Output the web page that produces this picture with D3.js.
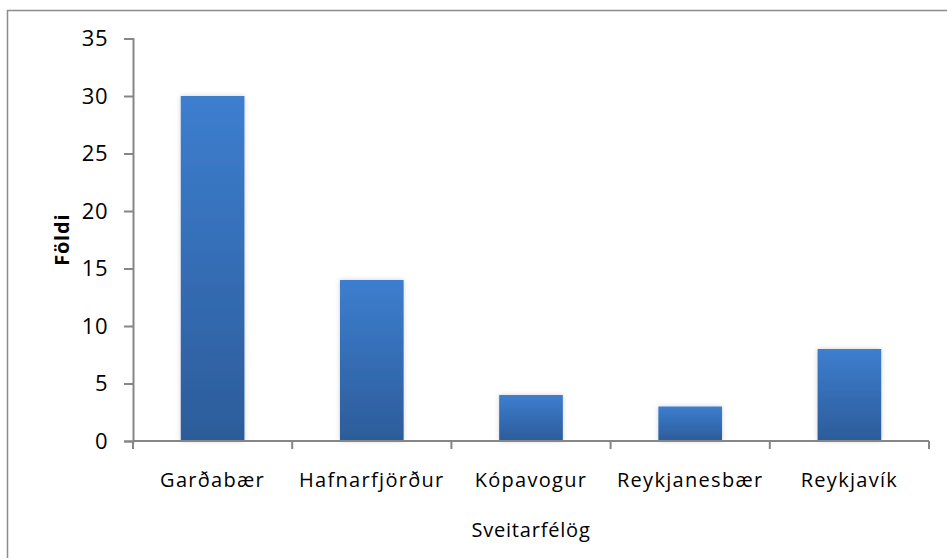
<!DOCTYPE html>
<html>
<head>
<meta charset="utf-8">
<script src="https://cdn.jsdelivr.net/npm/d3@7"></script>
<style>
  body { margin: 0; background: #fff; }
  svg { display: block; }
  text { font-family: "Open Sans", "Liberation Sans", sans-serif; fill: #000; }
</style>
</head>
<body>
<div id="chart"></div>
<script>
const categories = ["Garðabær", "Hafnarfjörður", "Kópavogur", "Reykjanesbær", "Reykjavík"];
const values = [30, 14, 4, 3, 8];
const yTicks = [0, 5, 10, 15, 20, 25, 30, 35];

const width = 947, height = 558;
const margin = {top: 38.5, left: 133, right: 18, bottom: 117};
const axisColor = "#868686";

const svg = d3.select("#chart").append("svg")
  .attr("width", width).attr("height", height);

// outer frame
svg.append("rect")
  .attr("x", 7.5).attr("y", 10.5)
  .attr("width", 960).attr("height", 600)
  .attr("fill", "none").attr("stroke", "#8c8c8c").attr("stroke-width", 1.5);

const defs = svg.append("defs");
const grad = defs.append("linearGradient")
  .attr("id", "barGrad").attr("x1", 0).attr("y1", 0).attr("x2", 0).attr("y2", 1);
grad.append("stop").attr("offset", "0%").attr("stop-color", "#3d7ecf");
grad.append("stop").attr("offset", "100%").attr("stop-color", "#2c5c9a");

const shadow = defs.append("filter").attr("id", "shadow")
  .attr("x", "-20%").attr("y", "-10%").attr("width", "140%").attr("height", "120%");
shadow.append("feDropShadow").attr("dx", 0).attr("dy", 0)
  .attr("stdDeviation", 2.5).attr("flood-color", "#000").attr("flood-opacity", 0.18);

const x = d3.scaleBand()
  .domain(categories)
  .range([margin.left, width - margin.right])
  .paddingInner(0.6).paddingOuter(0.3);

const y = d3.scaleLinear()
  .domain([0, 35])
  .range([height - margin.bottom, margin.top]);

// bars
svg.append("g").selectAll("rect")
  .data(values)
  .join("rect")
  .attr("x", (d, i) => x(categories[i]))
  .attr("y", d => y(d))
  .attr("width", x.bandwidth())
  .attr("height", d => y(0) - y(d))
  .attr("fill", "url(#barGrad)")
  .attr("filter", "url(#shadow)");

// y axis
const yAxis = svg.append("g")
  .attr("transform", `translate(${margin.left},0)`)
  .call(d3.axisLeft(y).tickValues(yTicks).tickSize(9).tickSizeOuter(9).tickPadding(16));
yAxis.selectAll("path, line").attr("stroke", axisColor).attr("stroke-width", 2);
yAxis.selectAll("text")
  .attr("font-size", 22)
  .attr("letter-spacing", 0.5)
  .attr("fill", "#000");

// x axis with boundary ticks
const bounds = d3.range(categories.length + 1).map(i => margin.left + i * (width - margin.right - margin.left) / categories.length);
const xg = svg.append("g");
xg.append("line")
  .attr("x1", margin.left).attr("x2", width - margin.right)
  .attr("y1", y(0)).attr("y2", y(0))
  .attr("stroke", axisColor).attr("stroke-width", 2);
xg.selectAll("line.tick")
  .data(bounds)
  .join("line").attr("class", "tick")
  .attr("x1", d => d).attr("x2", d => d)
  .attr("y1", y(0)).attr("y2", y(0) + 8)
  .attr("stroke", axisColor).attr("stroke-width", 2);
xg.selectAll("text")
  .data(categories)
  .join("text")
  .attr("x", d => x(d) + x.bandwidth() / 2)
  .attr("y", y(0) + 46)
  .attr("text-anchor", "middle")
  .attr("font-size", 20)
  .attr("letter-spacing", 1.3)
  .text(d => d);

// axis titles
svg.append("text")
  .attr("x", (margin.left + width - margin.right) / 2)
  .attr("y", 537)
  .attr("text-anchor", "middle")
  .attr("font-size", 20)
  .attr("letter-spacing", 0.8)
  .text("Sveitarfélög");

svg.append("text")
  .attr("transform", `translate(69,${y(17.5)}) rotate(-90)`)
  .attr("text-anchor", "middle")
  .attr("font-size", 20)
  .attr("font-weight", "bold")
  .attr("letter-spacing", 0.8)
  .text("Földi");
</script>
</body>
</html>
